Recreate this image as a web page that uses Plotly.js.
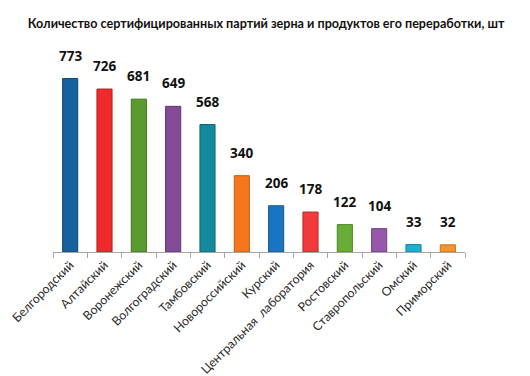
<!DOCTYPE html>
<html><head><meta charset="utf-8">
<script src="https://cdn.plot.ly/plotly-3.0.1.min.js"></script>
<style>html,body{margin:0;padding:0;background:#fff}</style>
</head><body>
<div id="chart" style="width:530px;height:376px"></div>
<script>
const categories = ["Белгородский","Алтайский","Воронежский","Волгоградский","Тамбовский","Новороссийский","Курский","Центральная  лаборатория","Ростовский","Ставропольский","Омский","Приморский"];
const values = [773, 726, 681, 649, 568, 340, 206, 178, 122, 104, 33, 32];
const barColors = ["#17619f","#ee2a2a","#5a9a2e","#834a98","#158a9e","#f5761c","#1b74c2","#f23a3a","#68ad38","#9657ac","#1eaed0","#f79430"];
const lineColors = ["#0f4a7c","#b81c1c","#40751e","#5f3570","#0e6675","#c45a10","#135892","#bb2626","#4c8526","#6f3f80","#1386a0","#c4721e"];

const trace = {
  type: "bar",
  x: categories,
  y: values,
  marker: {color: barColors, line: {color: lineColors, width: 1}},
  hoverinfo: "none"
};

const annotations = categories.map((c, i) => ({
  x: c, y: values[i], xref: "x", yref: "y",
  text: String(values[i]), showarrow: false,
  yshift: 23,
  font: {family: "Open Sans, Lato, sans-serif", size: 13.5, color: "#111", weight: "bold"}
}));

const layout = {
  width: 530, height: 376,
  margin: {l: 53, r: 65, t: 50, b: 124},
  paper_bgcolor: "#fff", plot_bgcolor: "#fff",
  title: {text: "<b>Количество сертифицированных партий зерна и продуктов его переработки, шт</b>",
          x: 0.502, xanchor: "center", y: 0.936, yanchor: "middle",
          font: {family: "Lato, Open Sans, sans-serif", size: 12.6, color: "#111"}},
  bargap: 0.56,
  showlegend: false,
  xaxis: {
    type: "category",
    tickangle: -45,
    tickfont: {family: "Lato, Open Sans, sans-serif", size: 12.3, color: "#2a2a2a"},
    showline: true, linecolor: "#a6a6a6", linewidth: 1,
    ticks: "outside", ticklen: 5, tickcolor: "#a6a6a6",
    tickson: "boundaries",
    showgrid: false, zeroline: false
  },
  yaxis: {
    range: [0, 900],
    visible: false, showgrid: false, zeroline: false
  },
  annotations: annotations
};

Plotly.newPlot("chart", [trace], layout, {displayModeBar: false, staticPlot: true});
</script>
</body></html>
